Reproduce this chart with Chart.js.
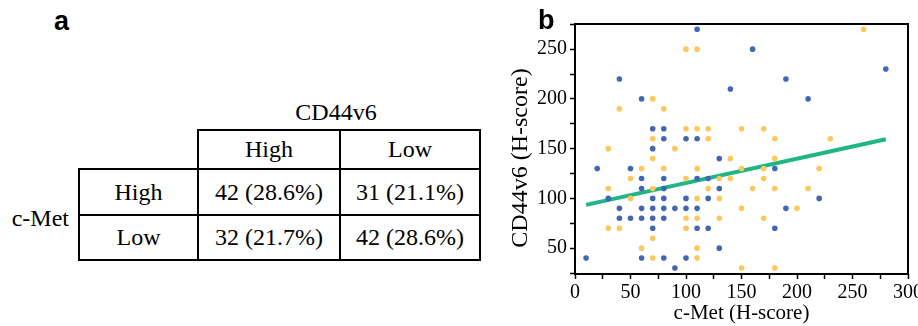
<!DOCTYPE html>
<html>
<head>
<meta charset="utf-8">
<script src="https://cdn.jsdelivr.net/npm/chart.js@4/dist/chart.umd.min.js"></script>
<style>
  html, body { margin: 0; padding: 0; background: #fff; }
  #page { position: relative; width: 918px; height: 326px; overflow: hidden; font-family: "Liberation Serif", serif; color: #000; }
  .panel { position: absolute; font-family: "Liberation Sans", Arial, sans-serif; font-weight: bold; font-size: 27px; line-height: 1; z-index: 2; }
  #tbl { position: absolute; left: 78px; top: 129px; border-collapse: collapse; table-layout: fixed; font-size: 24px; }
  #tbl td { border: 2px solid #000; padding: 0; text-align: center; vertical-align: middle; white-space: nowrap; }
  #tbl td.blank { border-top: none; border-left: none; }
  #colHead { position: absolute; left: 280px; width: 112px; top: 97px; text-align: center; font-size: 24px; line-height: 30px; }
  #rowHead { position: absolute; left: 0px; width: 69px; top: 203px; text-align: right; font-size: 24px; line-height: 30px; }
  #cv { position: absolute; left: 480px; top: 0; }
</style>
</head>
<body>
<div id="page">
  <div class="panel" style="left:54px; top:8px;">a</div>
  <div class="panel" style="left:538px; top:7px;">b</div>
  <div id="colHead"></div>
  <div id="rowHead"></div>
  <table id="tbl"></table>
  <canvas id="cv" width="438" height="326"></canvas>
</div>
<script>
// table a
const colName = 'CD44v6'
const rowName = 'c-Met'
const colLevels = ['High', 'Low']
const rowLevels = ['High', 'Low']
const counts = [[42, 31], [32, 42]]
const percents = ['28.6%', '21.1%', '21.7%', '28.6%']

// scatter b
const blueX = [110, 160, 280, 40, 190, 140, 60, 210, 70, 80, 80, 100, 110, 70, 130, 20, 50, 180,
  60, 80, 110, 120, 60, 80, 130, 30, 70, 80, 100, 120, 220,
  40, 60, 70, 80, 90, 100, 110, 190, 40, 50, 60, 70, 80,
  70, 110, 120, 180, 130, 10, 60, 80, 100, 90]
const blueY = [270, 250, 230, 220, 220, 210, 200, 200, 170, 170, 160, 160, 160, 150, 140, 130, 130, 130,
  120, 120, 120, 120, 110, 110, 110, 100, 100, 100, 100, 100, 100,
  90, 90, 90, 90, 90, 90, 90, 90, 80, 80, 80, 80, 80,
  70, 70, 70, 70, 50, 40, 40, 40, 40, 30]
const yellowX = [260, 100, 110, 70, 40, 80, 100, 110, 120, 150, 170, 70, 120, 180, 230, 30, 90,
  70, 140, 180, 60, 80, 110, 150, 170, 220, 50, 100, 130, 140, 170,
  30, 70, 120, 160, 180, 210, 50, 110, 130, 150, 200, 100, 110, 130, 170,
  30, 40, 100, 70, 60, 110, 70, 110, 150, 180]
const yellowY = [270, 250, 250, 200, 190, 190, 170, 170, 170, 170, 170, 160, 160, 160, 160, 150, 150,
  140, 140, 140, 130, 130, 130, 130, 130, 130, 120, 120, 120, 120, 120,
  110, 110, 110, 110, 110, 110, 100, 100, 100, 90, 90, 80, 80, 80, 80,
  70, 70, 70, 60, 50, 50, 40, 40, 30, 30]
const fitX = [10, 280]
const fitY = [93.5, 159.5]

const xTicks = [0, 25, 50, 75, 100, 125, 150, 175, 200, 225, 250, 275, 300]
const xLabels = [0, 50, 100, 150, 200, 250, 300]
const yTicks = [25, 50, 75, 100, 125, 150, 175, 200, 225, 250, 275]
const yLabels = [50, 100, 150, 200, 250]

// build table
document.getElementById('colHead').textContent = colName
document.getElementById('rowHead').textContent = rowName
const colW = [119, 142, 140]
const rowH = [39, 46, 45]
let html = '<colgroup>' + colW.map(w => '<col style="width:' + w + 'px">').join('') + '</colgroup>'
html += '<tr style="height:' + rowH[0] + 'px"><td class="blank"></td>' + colLevels.map(c => '<td>' + c + '</td>').join('') + '</tr>'
rowLevels.forEach((r, i) => {
    html += '<tr style="height:' + rowH[i + 1] + 'px"><td>' + r + '</td>'
    counts[i].forEach((n, j) => {
        html += '<td>' + n + ' (' + percents[i * 2 + j] + ')</td>'
    })
    html += '</tr>'
})
document.getElementById('tbl').innerHTML = html

// chart
const serif = '"Liberation Serif", "Times New Roman", serif'
Chart.defaults.font.family = serif
Chart.defaults.color = '#000'

const toPts = (xs, ys) => xs.map((x, i) => ({x: x, y: ys[i]}))

const frame = {
    id: 'frame',
    afterDatasetsDraw(c) {
        const a = c.chartArea
        const g = c.ctx
        g.save()
        g.lineWidth = 2
        g.strokeStyle = '#000'
        g.strokeRect(a.left, a.top, a.right - a.left, a.bottom - a.top)
        g.restore()
    }
}

const gridOpts = {drawOnChartArea: false, drawTicks: true, tickLength: 5, tickColor: '#000', tickWidth: 1.5}

new Chart(document.getElementById('cv').getContext('2d'), {
    type: 'scatter',
    data: {
        datasets: [
            {label: 'blue', data: toPts(blueX, blueY), backgroundColor: '#4266b2', borderWidth: 0, pointRadius: 2.8, order: 2},
            {label: 'yellow', data: toPts(yellowX, yellowY), backgroundColor: '#fdc75b', borderWidth: 0, pointRadius: 2.8, order: 1},
            {label: 'fit', data: toPts(fitX, fitY), showLine: true, borderColor: '#1fb585', borderWidth: 4, pointRadius: 0, order: 3}
        ]
    },
    options: {
        responsive: false,
        animation: false,
        layout: {padding: {top: 24, right: 10, left: 0, bottom: 0}},
        plugins: {legend: {display: false}, tooltip: {enabled: false}},
        scales: {
            x: {
                type: 'linear', min: 0, max: 300,
                afterBuildTicks: s => { s.ticks = xTicks.map(v => ({value: v})) },
                afterFit: s => { s.height = 52; s.paddingLeft = 0; s.paddingRight = 0 },
                ticks: {autoSkip: false, maxRotation: 0, padding: 2, font: {family: serif, size: 20}, color: '#000',
                    callback: v => xLabels.includes(v) ? String(v) : ''},
                grid: gridOpts,
                border: {display: false},
                title: {display: true, text: 'c-Met (H-score)', color: '#000', font: {family: serif, size: 21, lineHeight: 1.2}, padding: {top: 0, bottom: 0}}
            },
            y: {
                type: 'linear', min: 24, max: 275.3,
                afterBuildTicks: s => { s.ticks = yTicks.map(v => ({value: v})) },
                afterFit: s => { s.width = 95; s.paddingTop = 0; s.paddingBottom = 0 },
                ticks: {autoSkip: false, padding: 3, font: {family: serif, size: 20}, color: '#000',
                    callback: v => yLabels.includes(v) ? String(v) : ''},
                grid: gridOpts,
                border: {display: false},
                // trailing spaces nudge the rotated title down a bit
                title: {display: true, text: 'CD44v6 (H-score)   ', color: '#000', font: {family: serif, size: 24, lineHeight: 1.2}, padding: {top: 26, bottom: 0}}
            }
        }
    },
    plugins: [frame]
})
</script>
</body>
</html>
